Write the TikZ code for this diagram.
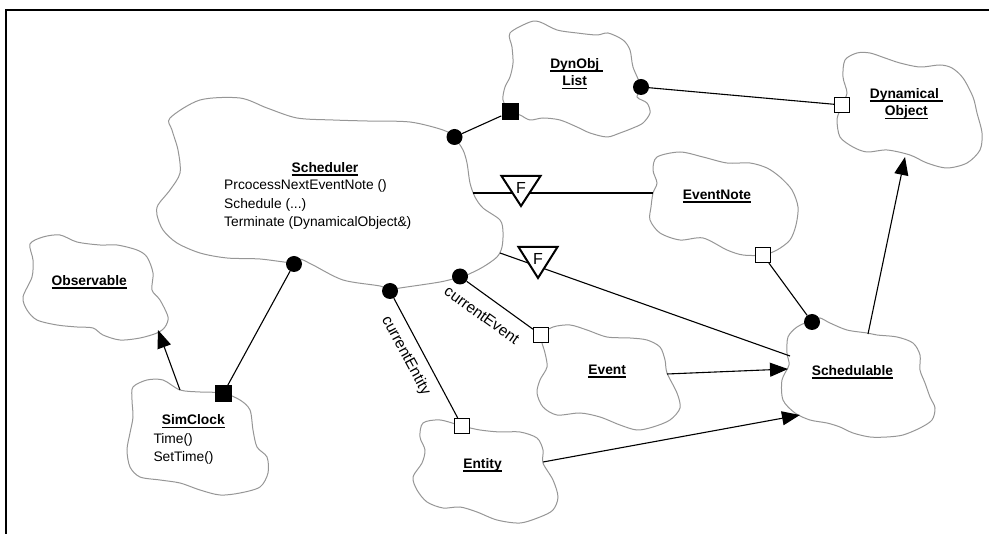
\documentclass[tikz,border=0pt]{standalone}
\usepackage{fontspec}
\setmainfont{Liberation Sans}
\usetikzlibrary{arrows.meta}

% bold class name with a flat underline at a fixed depth
\newcommand{\clsname}[1]{\setbox0\hbox{\bfseries #1}\rlap{\vrule height -1.8pt depth 3.3pt width \wd0}\box0}

\definecolor{cloudgray}{RGB}{150,150,150}

\tikzset{
  pageframe/.style={line width=2pt, line join=miter},
  cloudline/.style={draw=cloudgray, line width=1pt},
  conn/.style={line width=1.1pt},
  isa/.style={conn, -{Triangle[length=18pt,width=14pt]}},
  dotend/.style={circle, fill=black, inner sep=0pt, minimum size=16pt},
  oboxend/.style={rectangle, draw=black, fill=white, line width=1.1pt, inner sep=0pt, minimum size=15pt},
  fboxend/.style={rectangle, fill=black, inner sep=0pt, minimum size=17pt},
  classlbl/.style={font=\fontsize{13.8}{16}\selectfont, inner sep=0pt, anchor=base},
  meth/.style={font=\fontsize{13.8}{16}\selectfont, inner sep=0pt, anchor=base west},
  rolelbl/.style={font=\fontsize{15.5}{18}\selectfont, inner sep=0pt},
  ftri/.style={draw=black, fill=white, line width=2pt, line join=miter},
  flabel/.style={font=\fontsize{16}{18}\selectfont, inner sep=0pt}
}

\begin{document}
\begin{tikzpicture}[x=1pt,y=-1pt]
\useasboundingbox (0,0) rectangle (989,534);
\draw[pageframe] (6,534) -- (6,10) -- (989,10);

% ---- class clouds ----
% Scheduler
\draw[cloudline] plot[smooth cycle, tension=0.5] coordinates {
 (170,118) (200,100) (240,98) (267,108) (297,118) (333,120) (367,121) (410,122)
 (443,130) (454,137) (463,150) (467,163) (470,183) (475,197) (483,208) (500,220)
 (503,232) (502,247) (497,257) (483,267) (467,275) (460,277) (440,282) (400,288)
 (390,290) (380,286) (343,280) (313,265) (300,259) (294,263) (260,259) (227,258)
 (200,253) (177,243) (163,230) (157,215) (158,205) (170,190) (180,173) (178,150)
 (172,130)};
% DynObj List
\draw[cloudline] plot[smooth cycle, tension=0.5] coordinates {
 (510,33) (530,22) (540,22) (557,30) (577,33) (597,35) (608,33) (623,40) (630,50)
 (633,67) (641,87) (637,97) (647,103) (650,113) (643,123) (633,128) (620,133)
 (607,137) (590,133) (577,127) (560,120) (543,118) (530,120) (520,115) (510,112)
 (503,100) (505,87) (510,77) (513,63) (512,47)};
% Dynamical Object
\draw[cloudline] plot[smooth cycle, tension=0.5] coordinates {
 (845,60) (857,53) (870,53) (885,58) (900,63) (920,67) (940,65) (952,68) (963,78)
 (973,97) (977,113) (982,133) (980,150) (967,163) (947,168) (927,163) (910,155)
 (887,150) (867,152) (853,147) (840,137) (837,120) (840,110) (842,104) (847,93)
 (843,77)};
% EventNote
\draw[cloudline] plot[smooth cycle, tension=0.5] coordinates {
 (657,157) (680,152) (703,157) (727,163) (750,163) (767,168) (780,177) (792,190)
 (798,207) (796,225) (790,240) (777,250) (763,255) (743,255) (727,250) (703,238)
 (680,240) (660,233) (650,220) (651,207) (653,193) (657,183) (653,170)};
% Observable
\draw[cloudline] plot[smooth cycle, tension=0.5] coordinates {
 (30,244) (43,237) (60,235) (77,242) (100,245) (117,245) (137,250) (147,257)
 (153,273) (152,290) (160,300) (168,317) (165,327) (157,333) (140,338) (120,340)
 (103,335) (93,328) (77,327) (57,325) (37,320) (27,310) (23,297) (32,277) (33,260)};
% SimClock
\draw[cloudline] plot[smooth cycle, tension=0.5] coordinates {
 (133,387) (147,380) (163,380) (180,390) (200,392) (223,393) (240,400) (250,410)
 (253,430) (257,447) (267,457) (268,473) (260,487) (240,493) (220,495) (200,490)
 (180,483) (160,480) (140,477) (130,467) (127,450) (130,433) (133,417) (132,400)};
% Entity
\draw[cloudline] plot[smooth cycle, tension=0.5] coordinates {
 (423,423) (440,420) (462,426) (480,430) (500,432) (520,432) (537,438) (543,450)
 (543,463) (553,480) (558,497) (553,510) (540,517) (520,523) (497,520) (477,512)
 (460,507) (443,508) (427,502) (417,490) (413,477) (422,463) (425,450) (420,437)};
% Event
\draw[cloudline] plot[smooth cycle, tension=0.5] coordinates {
 (541,335) (553,327) (570,325) (587,330) (607,337) (630,338) (647,340) (660,347)
 (665,360) (667,373) (677,393) (680,408) (670,420) (653,427) (637,430) (620,425)
 (600,417) (580,413) (557,415) (543,407) (537,393) (540,380) (547,367) (545,353)
 (542,343)};
% Schedulable
\draw[cloudline] plot[smooth cycle, tension=0.5] coordinates {
 (812,320) (797,327) (788,337) (787,353) (789,365) (782,380) (783,400) (795,413)
 (810,420) (827,423) (840,427) (853,433) (870,437) (887,437) (903,435) (920,428)
 (932,420) (935,408) (930,397) (925,383) (920,370) (920,355) (913,343) (897,337)
 (877,335) (867,333) (847,330) (830,323) (820,318)};

% ---- class names and operations ----
\node[classlbl] (tSched) at (325,172.3) {\clsname{Scheduler}};
\node[meth] (mSched1) at (224,190) {PrcocessNextEventNote ()};
\node[meth] (mSched2) at (224,208.3) {Schedule (...)};
\node[meth] (mSched3) at (224,226.7) {Terminate (DynamicalObject\&)};
\node[classlbl] (tDyn1) at (576.7,68.3) {\clsname{DynObj\ }};
\node[classlbl] (tDyn2) at (574.7,86) {\clsname{List}};
\node[classlbl] (tDo1) at (906.3,98.3) {\clsname{Dynamical\ }};
\node[classlbl] (tDo2) at (906.3,116) {\clsname{Object}};
\node[classlbl] (tNote) at (717,199.3) {\clsname{EventNote}};
\node[classlbl] (tObs) at (89.2,285.7) {\clsname{Observable}};
\node[classlbl] (tClock) at (193.3,425) {\clsname{SimClock}};
\node[meth] (mClock1) at (153.3,443.3) {Time()};
\node[meth] (mClock2) at (153.3,461.7) {SetTime()};
\node[classlbl] (tEntity) at (482.5,468.3) {\clsname{Entity}};
\node[classlbl] (tEvent) at (607.2,374.3) {\clsname{Event}};
\node[classlbl] (tSable) at (852.5,375.7) {\clsname{Schedulable}};

% ---- connector end points on the cloud outlines ----
\coordinate (schE) at (473,193);
\coordinate (noteW) at (653,193);
\coordinate (schSE) at (500,253);
\coordinate (sableW) at (790,356);
\coordinate (eventE) at (667,374);
\coordinate (sableW2) at (788,369);
\coordinate (entityE) at (543,462);
\coordinate (sableSW) at (800,415);
\coordinate (sableN) at (868,334);
\coordinate (doS) at (905,157);
\coordinate (clockN) at (180,390);
\coordinate (obsS) at (158,330);

% ---- association ends ----
\node[dotend] (d1) at (454.5,137) {};
\node[fboxend] (s1) at (510,112) {};
\node[dotend] (d2) at (641,87) {};
\node[oboxend] (s2) at (842,105) {};
\node[dotend] (d3) at (294,264) {};
\node[fboxend] (s3) at (223,394) {};
\node[dotend] (d4) at (460,276.5) {};
\node[oboxend] (s4) at (541,335) {};
\node[dotend] (d5) at (390,291) {};
\node[oboxend] (s5) at (462,426) {};
\node[oboxend] (s6) at (763,255) {};
\node[dotend] (d6) at (812,322) {};

% ---- associations ----
\draw[conn] (d1) -- (s1);
\draw[conn] (d2) -- (s2);
\draw[conn] (d3) -- (s3);
\draw[conn] (d4) -- (s4);
\draw[conn] (d5) -- (s5);
\draw[conn] (s6) -- (d6);
\draw[conn] (schE) -- (noteW);
\draw[conn] (schSE) -- (sableW);

% ---- inheritance ----
\draw[isa] (eventE) -- (sableW2);
\draw[isa] (entityE) -- (sableSW);
\draw[isa] (sableN) -- (doS);
\draw[isa] (clockN) -- (obsS);

% ---- role names ----
\node[rolelbl, rotate=-35.6] (lEvent) at (482,315) {currentEvent};
\node[rolelbl, rotate=-61.9] (lEntity) at (405.7,355.7) {currentEntity};

% ---- friend markers ----
\coordinate (tri1) at (521,176);
\coordinate (tri2) at (538,247);
\draw[ftri] (tri1) ++(-19.5,0) -- ++(39,0) -- ++(-19.5,30) -- cycle;
\draw[ftri] (tri2) ++(-19.5,0) -- ++(39,0) -- ++(-19.5,31) -- cycle;
\node[flabel] (F1) at (521,187.5) {F};
\node[flabel] (F2) at (538,258.5) {F};
\end{tikzpicture}
\end{document}
